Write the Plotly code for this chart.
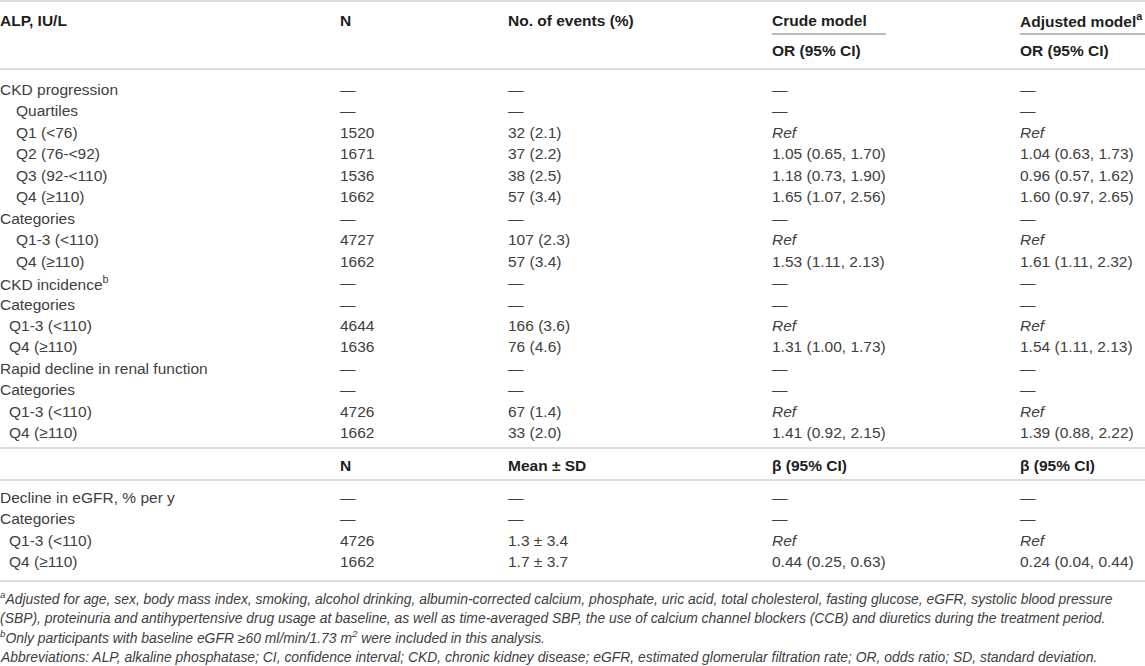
import plotly.graph_objects as go

# 表格数据
labels1 = ["CKD progression", "Quartiles", "Q1 (<76)", "Q2 (76-<92)", "Q3 (92-<110)", "Q4 (≥110)",
           "Categories", "Q1-3 (<110)", "Q4 (≥110)", "CKD incidence<sup>b</sup>", "Categories",
           "Q1-3 (<110)", "Q4 (≥110)", "Rapid decline in renal function", "Categories",
           "Q1-3 (<110)", "Q4 (≥110)"]
n1 = ["—", "—", "1520", "1671", "1536", "1662", "—", "4727", "1662", "—", "—", "4644", "1636",
      "—", "—", "4726", "1662"]
events1 = ["—", "—", "32 (2.1)", "37 (2.2)", "38 (2.5)", "57 (3.4)", "—", "107 (2.3)", "57 (3.4)",
           "—", "—", "166 (3.6)", "76 (4.6)", "—", "—", "67 (1.4)", "33 (2.0)"]
crude1 = ["—", "—", "Ref", "1.05 (0.65, 1.70)", "1.18 (0.73, 1.90)", "1.65 (1.07, 2.56)", "—", "Ref",
          "1.53 (1.11, 2.13)", "—", "—", "Ref", "1.31 (1.00, 1.73)", "—", "—", "Ref", "1.41 (0.92, 2.15)"]
adjusted1 = ["—", "—", "Ref", "1.04 (0.63, 1.73)", "0.96 (0.57, 1.62)", "1.60 (0.97, 2.65)", "—", "Ref",
             "1.61 (1.11, 2.32)", "—", "—", "Ref", "1.54 (1.11, 2.13)", "—", "—", "Ref", "1.39 (0.88, 2.22)"]

labels2 = ["Decline in eGFR, % per y", "Categories", "Q1-3 (<110)", "Q4 (≥110)"]
n2 = ["—", "—", "4726", "1662"]
mean2 = ["—", "—", "1.3 ± 3.4", "1.7 ± 3.7"]
crude2 = ["—", "—", "Ref", "0.44 (0.25, 0.63)"]
adjusted2 = ["—", "—", "Ref", "0.24 (0.04, 0.44)"]

header1 = ["ALP, IU/L", "N", "No. of events (%)", "Crude model", "Adjusted model<sup>a</sup>"]
header1b = ["", "", "", "OR (95% CI)", "OR (95% CI)"]
header2 = ["", "N", "Mean ± SD", "β (95% CI)", "β (95% CI)"]

footnotes = [
    "<sup>a</sup>Adjusted for age, sex, body mass index, smoking, alcohol drinking, albumin-corrected calcium, "
    "phosphate, uric acid, total cholesterol, fasting glucose, eGFR, systolic blood pressure",
    "(SBP), proteinuria and antihypertensive drug usage at baseline, as well as time-averaged SBP, "
    "the use of calcium channel blockers (CCB) and diuretics during the treatment period.",
    "<sup>b</sup>Only participants with baseline eGFR ≥60 ml/min/1.73 m<sup>2</sup> were included in this analysis.",
    "Abbreviations: ALP, alkaline phosphatase; CI, confidence interval; CKD, chronic kidney disease; "
    "eGFR, estimated glomerular filtration rate; OR, odds ratio; SD, standard deviation.",
]

# 版式参数
W, H = 1145, 666
PAD = 2  # 注释文字框的内边距
col_x = [0, 340, 508, 772, 1020]
row_h = 21.45
FAMILY = "Liberation Sans, Arial, sans-serif"
body_font = dict(family=FAMILY, size=15.5, color="#404040")
head_font = dict(family=FAMILY, size=15.5, color="#1e1e1e")
foot_font = dict(family=FAMILY, size=13.9, color="#404040")
line_col = "#d0d0d0"

annotations = []


def cell(x, y, text, font):
    if text == "":
        return
    if text == "Ref":
        text = "<i>Ref</i>"
    annotations.append(dict(x=x, y=y, xref="x", yref="y", text=text, showarrow=False,
                            xanchor="left", yanchor="middle", xshift=-PAD, font=font))


# 表头
for j, t in enumerate(header1):
    cell(col_x[j], 20, "<b>" + t + "</b>", head_font)
for j, t in enumerate(header1b):
    if t:
        cell(col_x[j], 50, "<b>" + t + "</b>", head_font)

# 第一部分
indent_first = True
for i in range(len(labels1)):
    y = 89.5 + i * row_h
    lab = labels1[i]
    if lab.startswith("CKD incidence"):
        indent_first = False
    if lab.startswith("Q"):
        x0 = 16 if indent_first else 9
    else:
        x0 = 0
    cell(x0, y, lab, body_font)
    cell(col_x[1], y, n1[i], body_font)
    cell(col_x[2], y, events1[i], body_font)
    cell(col_x[3], y, crude1[i], body_font)
    cell(col_x[4], y, adjusted1[i], body_font)

# 第二部分表头
for j, t in enumerate(header2):
    if t:
        cell(col_x[j], 465, "<b>" + t + "</b>", head_font)

for i in range(len(labels2)):
    y = 497.5 + i * row_h
    lab = labels2[i]
    cell(9 if lab.startswith("Q") else 0, y, lab, body_font)
    cell(col_x[1], y, n2[i], body_font)
    cell(col_x[2], y, mean2[i], body_font)
    cell(col_x[3], y, crude2[i], body_font)
    cell(col_x[4], y, adjusted2[i], body_font)

# 脚注
for i, t in enumerate(footnotes):
    cell(0, 598 + i * 19.6, "<i>" + t + "</i>", foot_font)

# 线条
shapes = []
for yl in [1, 69, 448, 480, 581]:
    shapes.append(dict(type="line", xref="x", yref="y", x0=0, x1=W, y0=yl, y1=yl,
                       line=dict(color=line_col, width=1.5)))
for xa, xb in [(772, 886), (1020, W)]:
    shapes.append(dict(type="line", xref="x", yref="y", x0=xa, x1=xb, y0=34, y1=34,
                       line=dict(color="#777777", width=1.2)))

fig = go.Figure()
fig.update_layout(
    width=W, height=H,
    margin=dict(l=0, r=0, t=0, b=0),
    paper_bgcolor="white", plot_bgcolor="white",
    xaxis=dict(range=[0, W], visible=False, fixedrange=True),
    yaxis=dict(range=[H, 0], visible=False, fixedrange=True),
    annotations=annotations,
    shapes=shapes,
    showlegend=False,
)

fig.write_html("out.html", config={"displayModeBar": False},
               post_script="document.body.style.margin='0';document.body.style.overflow='hidden';")
